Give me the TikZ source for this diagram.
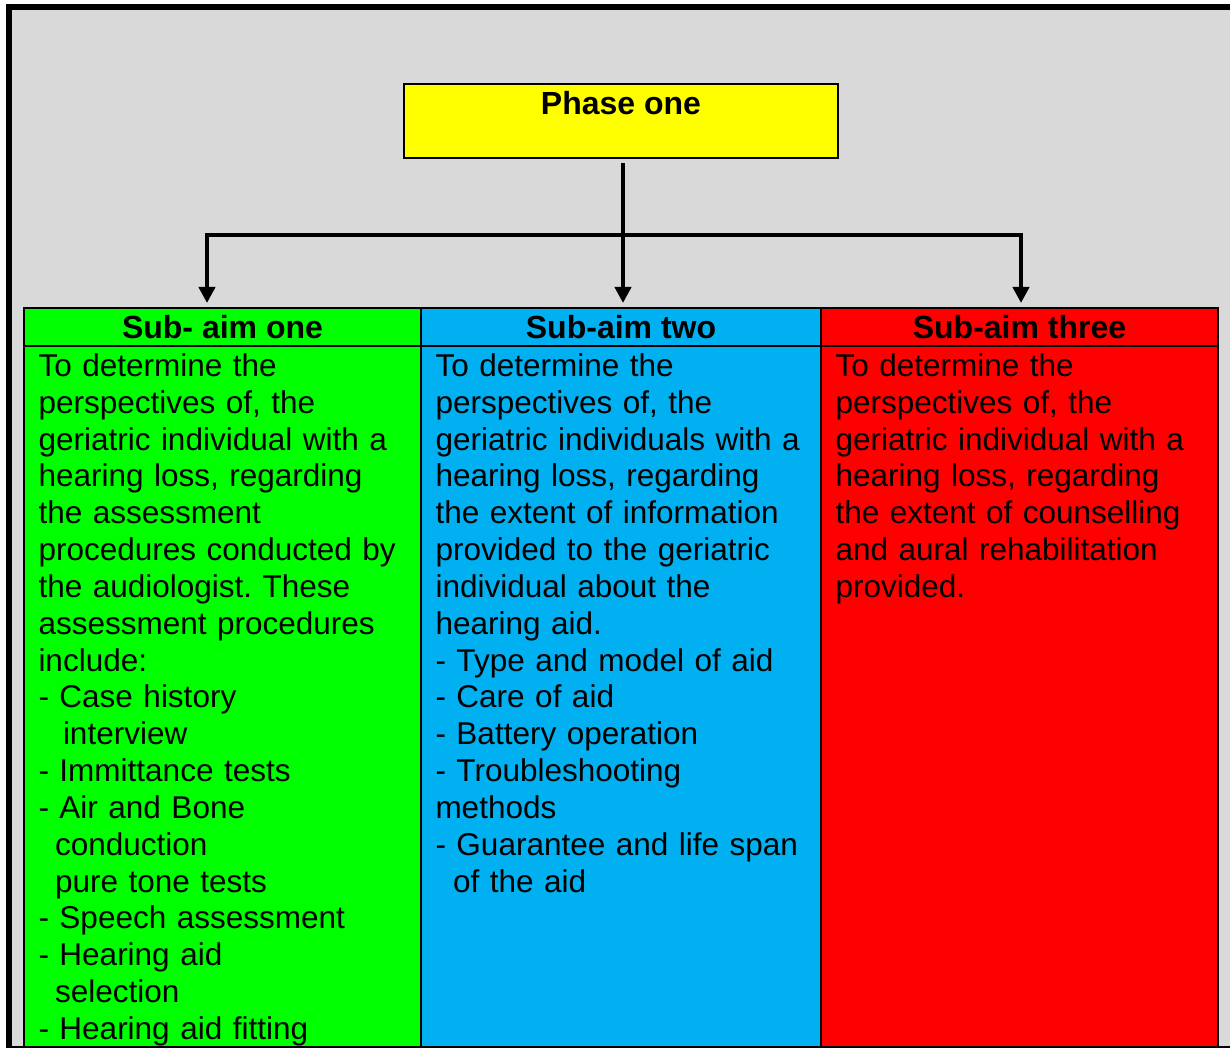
\documentclass[tikz,border=0pt]{standalone}
\usepackage{fontspec}
\setmainfont{Liberation Sans}
\usetikzlibrary{arrows.meta,calc}
\frenchspacing

\definecolor{panelgray}{HTML}{D9D9D9}
\definecolor{phaseyellow}{HTML}{FFFF00}
\definecolor{aimgreen}{HTML}{00FF00}
\definecolor{aimblue}{HTML}{00B0F0}
\definecolor{aimred}{HTML}{FF0000}

\tikzset{
  cellbox/.style={draw=black, line width=2.5pt, inner sep=0pt, outer sep=0pt,
    minimum width=397pt},
  widecell/.style={minimum width=400pt},
  headbox/.style={cellbox, minimum height=38pt, text height=22pt, text depth=0pt,
    font=\bfseries\fontsize{32pt}{36pt}\selectfont},
  bodybox/.style={cellbox, minimum height=701pt},
  bodytext/.style={anchor=base west, inner sep=0pt, outer sep=0pt, text width=400pt,
    align=left, font=\fontsize{31.5pt}{36.83pt}\selectfont},
  phasebox/.style={draw=black, line width=2.5pt, fill=phaseyellow, inner sep=0pt,
    minimum width=434pt, minimum height=74pt},
  wire/.style={line width=4.5pt, line join=miter},
  arrowwire/.style={wire, -{Triangle[width=16pt,length=16pt]}, shorten >=5pt}
}

\begin{document}
\begin{tikzpicture}[x=1pt,y=-1pt]
  \useasboundingbox (0,0) rectangle (1230,1048);

  % page frame
  \fill[panelgray] (12,10) rectangle (1230,1046);
  \fill[black] (6,4) rectangle (1230,10);
  \fill[black] (6,4) rectangle (12,1048);
  \fill[black] (6,1046) rectangle (1230,1048);

  % phase box
  \node[phasebox] (phase) at (621,121) {};
  \node[anchor=base, inner sep=0pt, font=\bfseries\fontsize{32pt}{36pt}\selectfont]
    (phasetext) at (621,114.5) {Phase one};

  % column bodies
  \node[bodybox, fill=aimgreen]           (body1) at (222.5,696.5) {};
  \node[bodybox, widecell, fill=aimblue]  (body2) at (621,696.5) {};
  \node[bodybox, fill=aimred]             (body3) at (1019.5,696.5) {};

  % column headers
  \node[headbox, fill=aimgreen]          (hdr1) at (222.5,327) {Sub- aim one};
  \node[headbox, widecell, fill=aimblue] (hdr2) at (621,327) {Sub-aim two};
  \node[headbox, fill=aimred]            (hdr3) at (1019.5,327) {Sub-aim three};

  % connectors
  \coordinate (stem) at (623,163);
  \coordinate (barl) at (207,235);
  \coordinate (barm) at (623,235);
  \coordinate (barr) at (1021,235);
  \draw[arrowwire] (stem) -- (stem |- hdr2.north);
  \draw[arrowwire] (barm) -- (barl) -- (barl |- hdr1.north);
  \draw[arrowwire] (barm) -- (barr) -- (barr |- hdr3.north);

  % column texts
  \node[bodytext] (text1) at (38.5,376.5) {To determine the\\
perspectives of, the\\
geriatric individual with a\\
hearing loss, regarding\\
the assessment\\
procedures conducted by\\
the audiologist. These\\
assessment procedures\\
include:\\
- Case history\\
\hspace*{24.5pt}interview\\
- Immittance tests\\
- Air and Bone\\
\hspace*{16.5pt}conduction\\
\hspace*{16.5pt}pure tone tests\\
- Speech assessment\\
- Hearing aid\\
\hspace*{16.5pt}selection\\
- Hearing aid fitting};

  \node[bodytext] (text2) at (435.5,376.5) {To determine the\\
perspectives of, the\\
geriatric individuals with a\\
hearing loss, regarding\\
the extent of information\\
provided to the geriatric\\
individual about the\\
hearing aid.\\
- Type and model of aid\\
- Care of aid\\
- Battery operation\\
- Troubleshooting\\
methods\\
- Guarantee and life span\\
\hspace*{17.5pt}of the aid};

  \node[bodytext] (text3) at (835.5,376.5) {To determine the\\
perspectives of, the\\
geriatric individual with a\\
hearing loss, regarding\\
the extent of counselling\\
and aural rehabilitation\\
provided.};
\end{tikzpicture}
\end{document}
